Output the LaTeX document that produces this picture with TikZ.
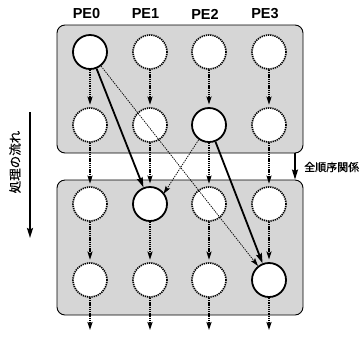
\documentclass[tikz,border=0pt]{standalone}
\usepackage{fontspec}
\setmainfont{Liberation Sans}
\newfontfamily\jpfont[FakeBold=0.6]{Noto Sans CJK JP}
\usetikzlibrary{arrows.meta}
\begin{document}
\begin{tikzpicture}[x=1pt,y=-1pt,
  panel/.style={draw=black, line width=0.9pt, rounded corners=8pt, fill=black!16, inner sep=0pt},
  pe/.style={circle, minimum size=34pt, inner sep=0pt, fill=white},
  active/.style={pe, draw, line width=1.8pt},
  idle/.style={pe, draw, line width=1.6pt, dash pattern=on 1.3pt off 0.9pt},
  flow/.style={line width=1.6pt, dash pattern=on 1.3pt off 0.9pt, -{Stealth[length=8pt,width=5pt,inset=1.5pt]}, shorten >=2.5pt},
  strong/.style={line width=1.8pt, -{Stealth[length=10pt,width=6pt,inset=1.5pt]}},
  weak/.style={line width=0.7pt, dash pattern=on 1.4pt off 1pt, -{Stealth[length=8pt,width=5pt,inset=1.5pt]}},
  bigarrow/.style={line width=1.8pt, -{Stealth[length=10pt,width=6pt,inset=1.5pt]}},
  pelabel/.style={font=\bfseries\fontsize{14.5}{15}\selectfont, inner sep=0pt},
  jp/.style={font=\jpfont\fontsize{11}{12}\selectfont, inner sep=0pt}
]
\useasboundingbox (0,0) rectangle (363,338);
\fill[white] (0,0) rectangle (363,338);

% panels
\node[panel, minimum width=246pt, minimum height=128pt] (top) at (180,89) {};
\node[panel, minimum width=246pt, minimum height=135pt] (bot) at (180,247.5) {};

% column labels
\node[pelabel] (l0) at (86.5,14) {PE0};
\node[pelabel] (l1) at (145.5,14) {PE1};
\node[pelabel] (l2) at (205,14) {PE2};
\node[pelabel] (l3) at (265,14) {PE3};

% processes
\node[active] (r1c0) at (90,52) {};
\node[idle]   (r1c1) at (150,52) {};
\node[idle]   (r1c2) at (209,52) {};
\node[idle]   (r1c3) at (269,52) {};

\node[idle]   (r2c0) at (90,125) {};
\node[idle]   (r2c1) at (150,125) {};
\node[active] (r2c2) at (209,125) {};
\node[idle]   (r2c3) at (269,125) {};

\node[idle]   (r3c0) at (90,204) {};
\node[active] (r3c1) at (150,204) {};
\node[idle]   (r3c2) at (209,204) {};
\node[idle]   (r3c3) at (269,204) {};

\node[idle]   (r4c0) at (90,280) {};
\node[idle]   (r4c1) at (150,280) {};
\node[idle]   (r4c2) at (209,280) {};
\node[active] (r4c3) at (269,280) {};

\coordinate (o0) at (90,330);
\coordinate (o1) at (150,330);
\coordinate (o2) at (209,330);
\coordinate (o3) at (269,330);

% vertical flows
\foreach \c in {0,1,2,3}{
  \draw[flow] (r1c\c.south) -- (r2c\c.north);
  \draw[flow] (r2c\c.south) -- (r3c\c.north);
  \draw[flow] (r3c\c.south) -- (r4c\c.north);
  \draw[flow, shorten >=0pt] (r4c\c.south) -- (o\c);
}

% dependencies
\draw[strong] (r1c0) -- (r3c1);
\draw[weak] (r1c0) -- (r4c3);
\draw[strong] (r2c2) -- (r4c3);
\draw[weak, shorten >=-1pt] (r2c2.235) -- (r3c1.38);

% total order
\coordinate (ord) at (295,165);
\draw[bigarrow] (top.south -| ord) -- (bot.north -| ord);
\node[jp, anchor=west] (ordlabel) at (304,167) {全順序関係};

% processing flow
\coordinate (ftop) at (30,112);
\coordinate (fbot) at (30,238);
\draw[bigarrow] (ftop) -- (fbot);
\node[jp, rotate=90, font=\jpfont\fontsize{12.5}{13}\selectfont] (flowlabel) at (15,162) {処理の流れ};
\end{tikzpicture}
\end{document}
